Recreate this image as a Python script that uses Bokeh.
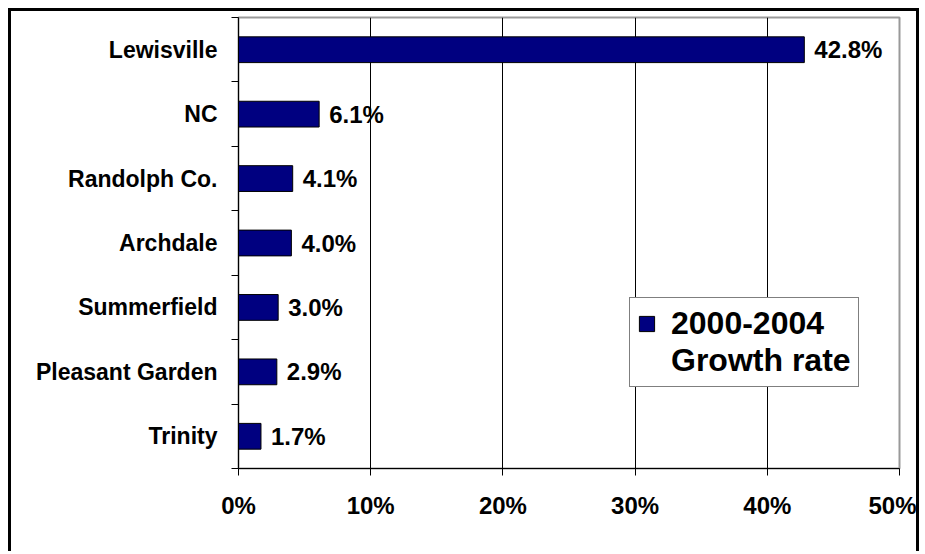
from bokeh.plotting import figure
from bokeh.models import (Range1d, FixedTicker, NumeralTickFormatter, Legend, LegendItem,
                          ColumnDataSource)
from bokeh.core.properties import value
from bokeh.embed import file_html
from bokeh.resources import INLINE

categories = ["Lewisville", "NC", "Randolph Co.", "Archdale", "Summerfield", "Pleasant Garden", "Trinity"]
growth = [42.8, 6.1, 4.1, 4.0, 3.0, 2.9, 1.7]
x_ticks = [0, 10, 20, 30, 40, 50]
series_label = ["2000-2004", "Growth rate"]

FONT = "Liberation Sans"
n = len(categories)
ypos = [n - i - 0.5 for i in range(n)]
src = ColumnDataSource(dict(
    y=ypos,
    v=[g / 100 for g in growth],
    lab=[f"{g:.1f}%" for g in growth],
    cat=categories,
))

p = figure(width=911, height=543, x_range=Range1d(0, x_ticks[-1] / 100), y_range=Range1d(0, n),
           output_backend="svg", toolbar_location=None,
           min_border_left=227, min_border_top=6, min_border_right=23, min_border_bottom=86)
p.styles = {"margin-left": "8px", "margin-top": "8px",
            "border-top": "3px solid black", "border-left": "3px solid black",
            "border-right": "3px solid black"}

p.outline_line_color = "#999999"
p.outline_line_width = 2

# grid
p.xgrid.ticker = FixedTicker(ticks=[t / 100 for t in x_ticks])
p.xgrid.grid_line_color = "black"
p.xgrid.grid_line_width = 1
p.ygrid.grid_line_color = None

# x axis
xa = p.xaxis[0]
xa.ticker = FixedTicker(ticks=[t / 100 for t in x_ticks])
xa.formatter = NumeralTickFormatter(format="0%")
xa.major_tick_in = 0
xa.major_tick_out = 7
xa.minor_tick_out = 0
xa.minor_tick_in = 0
xa.axis_line_color = "black"
xa.major_tick_line_color = "black"
xa.major_label_text_font = FONT
xa.major_label_text_font_style = "bold"
xa.major_label_text_font_size = "24px"
xa.major_label_text_color = "black"
xa.major_label_standoff = 16

# y axis
ya = p.yaxis[0]
ya.ticker = FixedTicker(ticks=ypos, minor_ticks=list(range(n + 1)))
ya.major_label_overrides = {y: c for y, c in zip(ypos, categories)}
ya.major_tick_in = 0
ya.major_tick_out = 0
ya.minor_tick_in = 0
ya.minor_tick_out = 7
ya.minor_tick_line_color = "black"
ya.axis_line_color = "black"
ya.major_label_text_font = FONT
ya.major_label_text_font_style = "bold"
ya.major_label_text_font_size = "23px"
ya.major_label_text_color = "black"
ya.major_label_standoff = 14

bars = p.hbar(y="y", right="v", left=0, height=0.4, fill_color="#000080",
              line_color="black", line_width=1, source=src)
p.text(x="v", y="y", text="lab", x_offset=10, text_baseline="middle", text_align="left",
       text_font=value(FONT), text_font_style="bold", text_font_size="24px",
       text_color="black", source=src)

dummy = p.hbar(y=[], right=[], left=0, height=0.4, fill_alpha=0, line_alpha=0)

legend = Legend(items=[LegendItem(label=series_label[0], renderers=[bars]),
                       LegendItem(label=series_label[1], renderers=[dummy])],
                location=(391, 81), glyph_width=19, glyph_height=19,
                label_text_font=FONT, label_text_font_style="bold", label_text_font_size="32px",
                label_text_color="black",
                padding=7, spacing=-6, label_standoff=15, margin=0,
                border_line_color="black", border_line_width=1,
                background_fill_color="white", background_fill_alpha=1)
p.add_layout(legend, "center")

open("out.html", "w").write(file_html(p, INLINE))
